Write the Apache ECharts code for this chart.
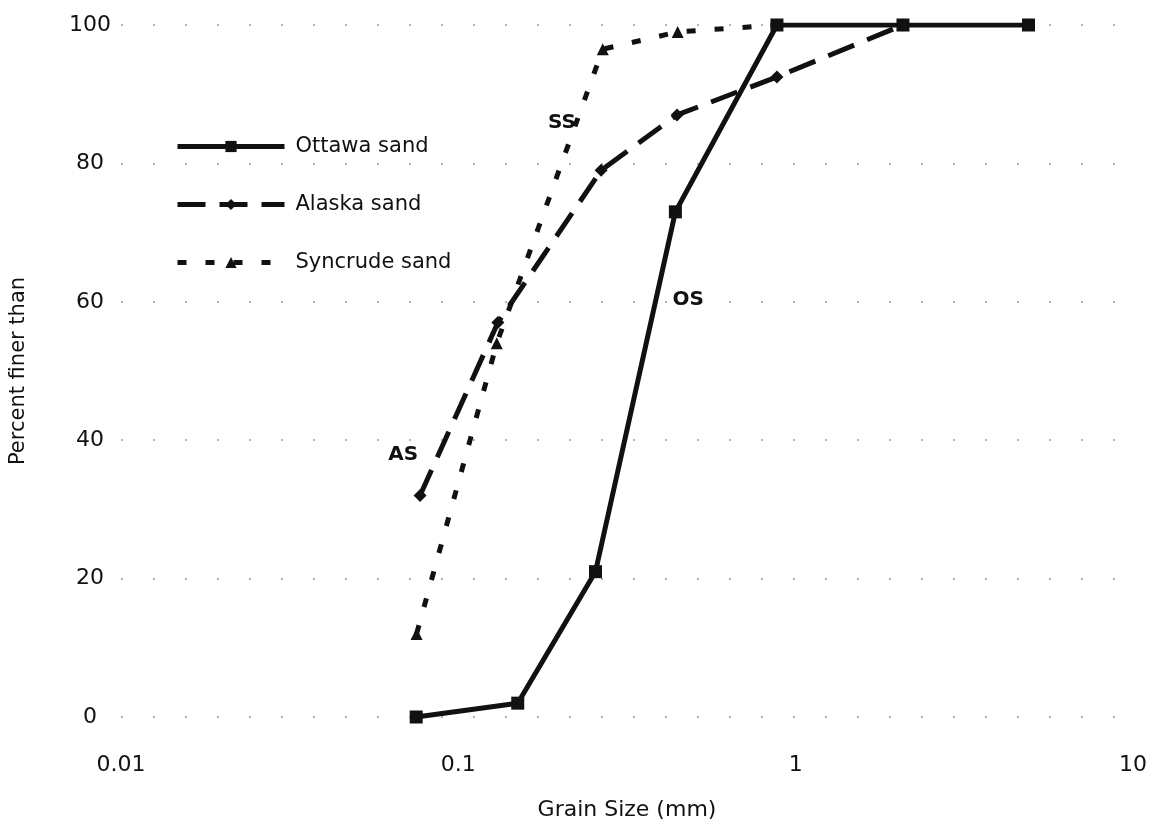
<!DOCTYPE html>
<html><head><meta charset="utf-8">
<script src="https://cdn.jsdelivr.net/npm/echarts@6/dist/echarts.min.js"></script>
<style>html,body{margin:0;padding:0;background:#fff}#c{width:1152px;height:830px}</style>
</head><body><div id="c"></div>
<script>
// ---- data ----
const xTickLabels = ['0.01', '0.1', '1', '10'];
const yTickLabels = ['0', '20', '40', '60', '80', '100'];
const seriesNames = ['Ottawa sand', 'Alaska sand', 'Syncrude sand'];
const ottawaX = [0.075, 0.15, 0.255, 0.44, 0.88, 2.08, 4.9];
const ottawaY = [0, 2, 21, 73, 100, 100, 100];
const alaskaX = [0.077, 0.131, 0.265, 0.445, 0.88, 2.08];
const alaskaY = [32, 57, 79, 87, 92.5, 100];
const syncrudeX = [0.0752, 0.13, 0.268, 0.447, 0.88];
const syncrudeY = [12, 54, 96.5, 99, 100];
const curveTags = ['OS', 'AS', 'SS'];
const curveTagX = [0.48, 0.0686, 0.203];
const curveTagY = [60.3, 37.9, 85.8];

const FONT = 'DejaVu Sans';
const INK = '#111';
const zip = (xs, ys) => xs.map((x, i) => [x, ys[i]]);

function tag(i) {
  return {
    symbol: 'circle', symbolSize: 1, itemStyle: { color: 'rgba(0,0,0,0)' },
    label: { show: true, position: 'inside', formatter: '{b}', color: INK, fontFamily: FONT, fontWeight: 'bold', fontSize: 20 },
    data: [{ name: curveTags[i], coord: [curveTagX[i], curveTagY[i]] }]
  };
}

const chart = echarts.init(document.getElementById('c'), null, { renderer: 'canvas' });
chart.setOption({
  backgroundColor: '#fff',
  animation: false,
  grid: { left: 121, right: 19, top: 25, bottom: 113, containLabel: false },
  legend: {
    orient: 'vertical', left: 175, top: 136, padding: 0, itemWidth: 107, itemHeight: 14, itemGap: 37,
    textStyle: { fontFamily: FONT, fontSize: 21, color: INK, padding: [0, 0, 0, 6] },
    lineStyle: { width: 5 },
    data: seriesNames
  },
  xAxis: {
    type: 'log', logBase: 10, min: 0.01, max: 10,
    name: 'Grain Size (mm)', nameLocation: 'middle', nameGap: 82,
    nameTextStyle: { fontFamily: FONT, fontSize: 22, color: INK },
    axisLine: { show: false }, axisTick: { show: false }, splitLine: { show: false },
    axisLabel: {
      fontFamily: FONT, fontSize: 22, color: INK, margin: 37,
      formatter: v => xTickLabels.find(t => Math.abs(Math.log10(+t) - Math.log10(v)) < 1e-6) || ''
    }
  },
  yAxis: {
    type: 'value', min: 0, max: 100, interval: 20,
    name: 'Percent finer than', nameLocation: 'middle', nameGap: 92,
    nameTextStyle: { fontFamily: FONT, fontSize: 21, color: INK },
    axisLine: { show: false }, axisTick: { show: false },
    splitLine: { show: true, lineStyle: { color: '#999', width: 1.5, type: [2, 30] } },
    axisLabel: {
      fontFamily: FONT, fontSize: 22, color: INK, align: 'center', margin: 31,
      formatter: v => yTickLabels.find(t => +t === v) || ''
    }
  },
  series: [
    {
      name: seriesNames[0], type: 'line', data: zip(ottawaX, ottawaY),
      symbol: 'rect', symbolSize: 13, showAllSymbol: true,
      lineStyle: { color: INK, width: 5 }, itemStyle: { color: INK },
      markPoint: tag(0), z: 3
    },
    {
      name: seriesNames[1], type: 'line', data: zip(alaskaX, alaskaY),
      symbol: 'diamond', symbolSize: 13,
      lineStyle: { color: INK, width: 5, type: [28, 14] }, itemStyle: { color: INK },
      markPoint: tag(1), z: 2
    },
    {
      name: seriesNames[2], type: 'line', data: zip(syncrudeX, syncrudeY),
      symbol: 'triangle', symbolSize: 12,
      lineStyle: { color: INK, width: 5, type: [9, 19] }, itemStyle: { color: INK },
      markPoint: tag(2), z: 2
    }
  ]
});
</script></body></html>
